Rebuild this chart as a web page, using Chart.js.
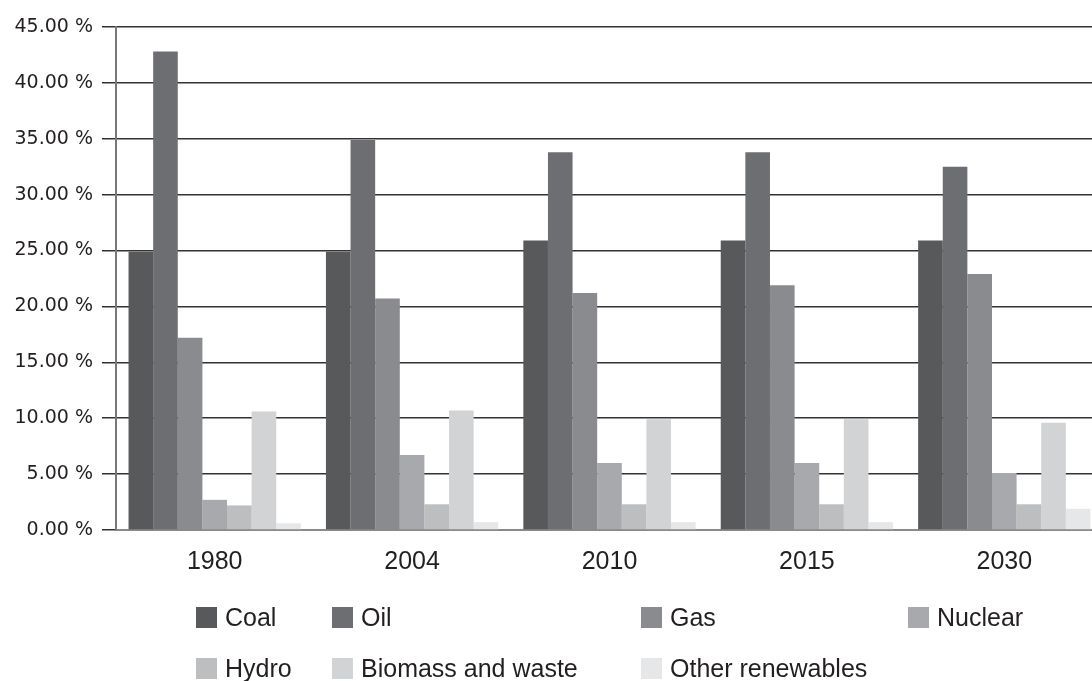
<!DOCTYPE html>
<html lang="en">
<head>
    <meta charset="UTF-8">
    <title>Energy mix</title>
    <script src="https://cdn.jsdelivr.net/npm/chart.js"></script>
    <style>
        html, body { margin: 0; padding: 0; background: #fff; overflow: hidden; }
        #wrap { position: relative; width: 1103px; height: 681px; }
        #legend { position: absolute; left: 0; top: 0; width: 100%; height: 100%; pointer-events: none; }
        .item { position: absolute; display: flex; align-items: center; font-family: "Liberation Sans", Arial, sans-serif; font-size: 25px; color: #231f20; white-space: nowrap; }
        .box { width: 21px; height: 21px; margin-right: 8px; }
    </style>
</head>
<body>
    <div id="wrap">
        <canvas id="myChart" width="1103" height="681"></canvas>
        <div id="legend"></div>
    </div>

    <script>
        const years = ['1980', '2004', '2010', '2015', '2030'];
        const seriesNames = ['Coal', 'Oil', 'Gas', 'Nuclear', 'Hydro', 'Biomass and waste', 'Other renewables'];
        const coal = [24.9, 24.9, 25.9, 25.9, 25.9];
        const oil = [42.8, 34.9, 33.8, 33.8, 32.5];
        const gas = [17.2, 20.7, 21.2, 21.9, 22.9];
        const nuclear = [2.7, 6.7, 6.0, 6.0, 5.1];
        const hydro = [2.2, 2.3, 2.3, 2.3, 2.3];
        const biomass = [10.6, 10.7, 9.9, 9.9, 9.6];
        const otherRenew = [0.6, 0.7, 0.7, 0.7, 1.9];
        const yTicks = [0, 5, 10, 15, 20, 25, 30, 35, 40, 45];

        const colors = ['#58595b', '#6d6e71', '#8a8b8e', '#a7a9ac', '#bcbec0', '#d1d3d4', '#e6e7e8'];
        const values = [coal, oil, gas, nuclear, hydro, biomass, otherRenew];

        const ctx = document.getElementById('myChart').getContext('2d');
        const myChart = new Chart(ctx, {
            type: 'bar',
            data: {
                labels: years,
                datasets: seriesNames.map((name, i) => ({
                    label: name,
                    data: values[i],
                    backgroundColor: colors[i],
                    borderWidth: 0
                }))
            },
            options: {
                responsive: false,
                animation: false,
                devicePixelRatio: 1,
                categoryPercentage: 0.873,
                barPercentage: 1,
                layout: { padding: { top: 27, right: 0, left: 0, bottom: 0 } },
                plugins: {
                    legend: { display: false },
                    tooltip: { enabled: false }
                },
                scales: {
                    x: {
                        grid: { display: false, drawTicks: false },
                        border: { display: true, color: '#8a8a8a', width: 2 },
                        ticks: {
                            padding: 17,
                            color: '#231f20',
                            font: { family: '"Liberation Sans", Arial, sans-serif', size: 25 }
                        },
                        afterFit: (s) => { s.height = 151; }
                    },
                    y: {
                        min: 0,
                        max: 45,
                        afterBuildTicks: (s) => { s.ticks = yTicks.map(v => ({ value: v })); },
                        grid: { color: '#333', lineWidth: 1.5, tickLength: 14, drawTicks: true },
                        border: { display: true, color: '#777', width: 2 },
                        ticks: {
                            padding: 9,
                            color: '#231f20',
                            font: { family: '"DejaVu Sans", Verdana, sans-serif', size: 19 },
                            callback: (v) => Number(v).toFixed(2) + ' %'
                        },
                        afterFit: (s) => { s.width = 116; }
                    }
                }
            }
        });

        // legende en HTML, deux lignes
        const cols = [196, 332, 641, 908, 196, 332, 641];
        const rows = [617, 617, 617, 617, 668, 668, 668];
        const legend = document.getElementById('legend');
        seriesNames.forEach((name, i) => {
            const item = document.createElement('div');
            item.className = 'item';
            item.style.left = cols[i] + 'px';
            item.style.top = (rows[i] - 15) + 'px';
            item.style.height = '30px';
            const box = document.createElement('span');
            box.className = 'box';
            box.style.background = colors[i];
            item.appendChild(box);
            item.appendChild(document.createTextNode(name));
            legend.appendChild(item);
        });
    </script>
</body>
</html>
